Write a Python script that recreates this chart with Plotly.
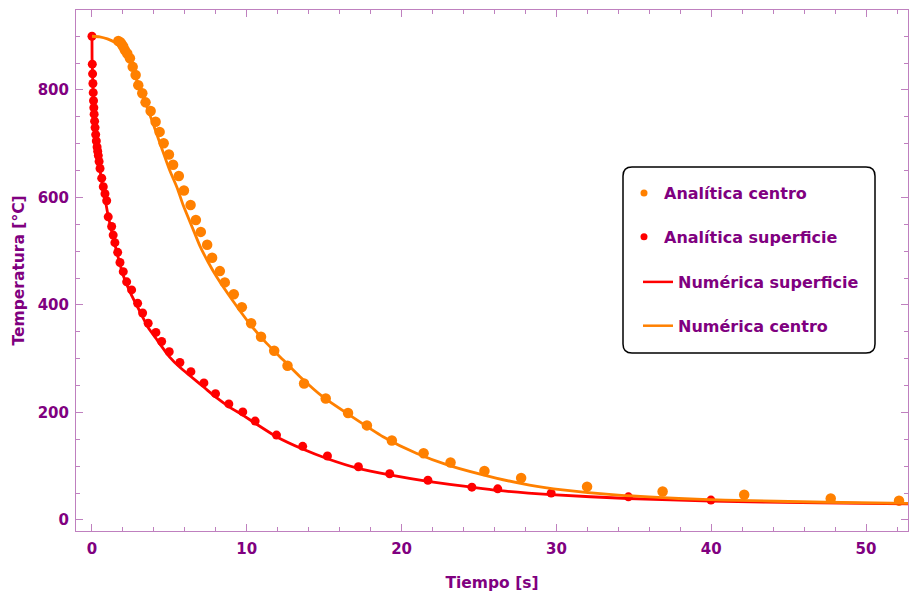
import plotly.graph_objects as go

# Analytic solution samples (time in s, temperature in °C)
centro_t = [1.70, 1.83, 1.92, 2.02, 2.13, 2.28, 2.45, 2.63, 2.82, 2.99, 3.25, 3.46, 3.79, 4.11,
            4.37, 4.63, 4.97, 5.24, 5.61, 5.94, 6.37, 6.71, 7.03, 7.44, 7.76, 8.26, 8.58, 9.16,
            9.68, 10.28, 10.92, 11.77, 12.63, 13.70, 15.10, 16.54, 17.76, 19.37, 21.42, 23.16,
            25.35, 27.72, 31.98, 36.86, 42.13, 47.72, 52.13]
centro_T = [891, 889, 885, 881, 874, 868, 859, 843, 828, 809, 794, 777, 761, 741,
            722, 701, 680, 661, 640, 613, 586, 558, 536, 512, 488, 463, 442, 420,
            396, 366, 341, 315, 287, 254, 226, 199, 176, 148, 124, 107,
            91, 78, 62, 53, 47, 40, 36]

superficie_t = [0.0, 0.02, 0.04, 0.06, 0.08, 0.10, 0.12, 0.14, 0.17, 0.20, 0.24, 0.28, 0.33,
                0.37, 0.41, 0.46, 0.52, 0.63, 0.73, 0.84, 0.95, 1.05, 1.27, 1.37, 1.48, 1.66,
                1.81, 2.02, 2.24, 2.56, 2.95, 3.27, 3.63, 4.13, 4.50, 4.99, 5.68, 6.39, 7.23,
                7.98, 8.84, 9.74, 10.54, 11.92, 13.61, 15.21, 17.21, 19.23, 21.70, 24.54,
                26.21, 29.66, 34.65, 39.98]
superficie_T = [900, 848, 830, 812, 795, 780, 767, 755, 742, 730, 717, 705, 694,
                686, 678, 667, 654, 636, 620, 607, 594, 564, 546, 530, 516, 498,
                479, 462, 443, 428, 403, 385, 366, 349, 332, 313, 293, 276, 255,
                235, 216, 201, 184, 158, 137, 119, 99, 86, 74, 61,
                58, 50, 43, 37]

# Numerical solution curves
num_centro_t = [0.0, 0.5, 1.0, 1.5, 2.0, 2.5, 3.0, 3.5, 4.0, 4.5, 5.0, 5.5, 5.9, 6.5, 6.97,
                7.5, 8.04, 9.12, 10.19, 11.27, 12.34, 13.42, 14.92, 16.65, 18.8, 20.95, 23.1,
                26.1, 28.26, 30.4, 33.6, 37.9, 40.9, 47.4, 52.75]
num_centro_T = [900, 899, 895, 888, 877, 858, 806, 772, 733, 692, 652, 618, 585, 543, 510,
                480, 453, 407, 365, 329, 298, 267, 229, 195, 155, 124, 101,
                78, 65, 56, 47, 40, 37, 33, 31]

num_sup_t = [0.0, 0.005, 0.02, 0.1, 0.2, 0.3, 0.4, 0.6, 0.84, 1.05, 1.37, 1.66, 2.02, 2.56,
             2.95, 3.63, 4.13, 4.5, 4.99, 5.68, 6.39, 7.23, 7.98, 8.84, 9.74, 10.54, 11.92,
             13.61, 15.21, 17.21, 19.23, 21.7, 24.54, 26.2, 29.66, 34.65, 40.0, 47.0, 52.75]
num_sup_T = [900, 860, 845, 775, 726, 698, 676, 635, 598, 565, 525, 492, 455, 418,
             396, 358, 338, 323, 304, 284, 267, 247, 229, 211, 195, 180, 155,
             132, 114, 96, 84, 72, 61, 55, 47, 40, 35, 32, 30]

x_ticks = [0, 10, 20, 30, 40, 50]
y_ticks = [0, 200, 400, 600, 800]

ORANGE = "#FF8000"
RED = "#FF0000"
PURPLE = "#800080"
FRAME = "#BF80BF"
FONT = "DejaVu Sans"

fig = go.Figure()

fig.add_trace(go.Scatter(x=centro_t, y=centro_T, mode="markers",
                         marker=dict(color=ORANGE, size=10.5), showlegend=False))
fig.add_trace(go.Scatter(x=superficie_t, y=superficie_T, mode="markers",
                         marker=dict(color=RED, size=9), showlegend=False))
fig.add_trace(go.Scatter(x=num_sup_t, y=num_sup_T, mode="lines",
                         line=dict(color=RED, width=2.8, shape="spline", smoothing=0.6),
                         showlegend=False))
fig.add_trace(go.Scatter(x=num_centro_t, y=num_centro_T, mode="lines",
                         line=dict(color=ORANGE, width=2.8, shape="spline", smoothing=0.6),
                         showlegend=False))

# Legend entries
fig.add_trace(go.Scatter(x=[None], y=[None], mode="markers", name="Analítica centro",
                         marker=dict(color=ORANGE, size=7), legend="legend", legendgroup="a"))
fig.add_trace(go.Scatter(x=[None], y=[None], mode="markers", name="Analítica superficie",
                         marker=dict(color=RED, size=7), legend="legend", legendgroup="b"))
fig.add_trace(go.Scatter(x=[None], y=[None], mode="lines", name="Numérica superficie",
                         line=dict(color=RED, width=2.5), legend="legend2", legendgroup="c"))
fig.add_trace(go.Scatter(x=[None], y=[None], mode="lines", name="Numérica centro",
                         line=dict(color=ORANGE, width=2.5), legend="legend2", legendgroup="d"))

W, H = 909, 594
ML, MR, MT, MB = 76, 1, 10, 63
PW, PH = W - ML - MR, H - MT - MB


def px(xp):
    return (xp - ML) / PW


def py(yp):
    return (H - MB - yp) / PH


# Rounded legend frame
x0, x1, y0, y1 = px(623), px(875), py(353), py(167)
rx, ry = 9 / PW, 9 / PH
path = (f"M {x0 + rx},{y0} L {x1 - rx},{y0} Q {x1},{y0} {x1},{y0 + ry} "
        f"L {x1},{y1 - ry} Q {x1},{y1} {x1 - rx},{y1} L {x0 + rx},{y1} "
        f"Q {x0},{y1} {x0},{y1 - ry} L {x0},{y0 + ry} Q {x0},{y0} {x0 + rx},{y0} Z")
fig.add_shape(type="path", path=path, xref="paper", yref="paper",
              line=dict(color="black", width=1.5), fillcolor="white", layer="below")

legend_font = dict(family=FONT, size=16, color=PURPLE, weight="bold")
axis_font = dict(family=FONT, size=15, color=PURPLE, weight="bold")
title_font = dict(family=FONT, size=15.5, color=PURPLE, weight="bold")

# Vertical axis title placed at a fixed offset from the frame
fig.add_annotation(text="Temperatura [°C]", textangle=-90, xref="paper", yref="paper",
                   x=px(18), y=0.5, xanchor="center", yanchor="middle",
                   showarrow=False, font=title_font)

fig.update_layout(
    width=W, height=H,
    margin=dict(l=ML, r=MR, t=MT, b=MB),
    paper_bgcolor="white", plot_bgcolor="white",
    font=dict(family=FONT, color=PURPLE),
    legend=dict(x=px(624), y=py(176), xanchor="left", yanchor="top",
                bgcolor="rgba(0,0,0,0)", font=legend_font, tracegroupgap=20,
                itemwidth=30),
    legend2=dict(x=px(638), y=py(265), xanchor="left", yanchor="top",
                 bgcolor="rgba(0,0,0,0)", font=legend_font, tracegroupgap=20,
                 itemwidth=30),
    xaxis=dict(range=[-1.032, 52.71], tickvals=x_ticks, ticks="inside", ticklen=7,
               tickwidth=1, tickcolor=FRAME, showline=True, linecolor=FRAME, linewidth=1,
               mirror="ticks", showgrid=False, zeroline=False, ticklabelstandoff=4,
               minor=dict(dtick=2, tick0=0, ticks="inside", ticklen=4, tickcolor=FRAME),
               tickfont=axis_font,
               title=dict(text="Tiempo [s]", standoff=20, font=title_font)),
    yaxis=dict(range=[-20.5, 948.8], tickvals=y_ticks, ticks="inside", ticklen=7,
               tickwidth=1, tickcolor=FRAME, showline=True, linecolor=FRAME, linewidth=1,
               mirror="ticks", showgrid=False, zeroline=False, ticklabelstandoff=3,
               minor=dict(dtick=50, tick0=0, ticks="inside", ticklen=4, tickcolor=FRAME),
               tickfont=axis_font),
)

fig.write_html("out.html")
